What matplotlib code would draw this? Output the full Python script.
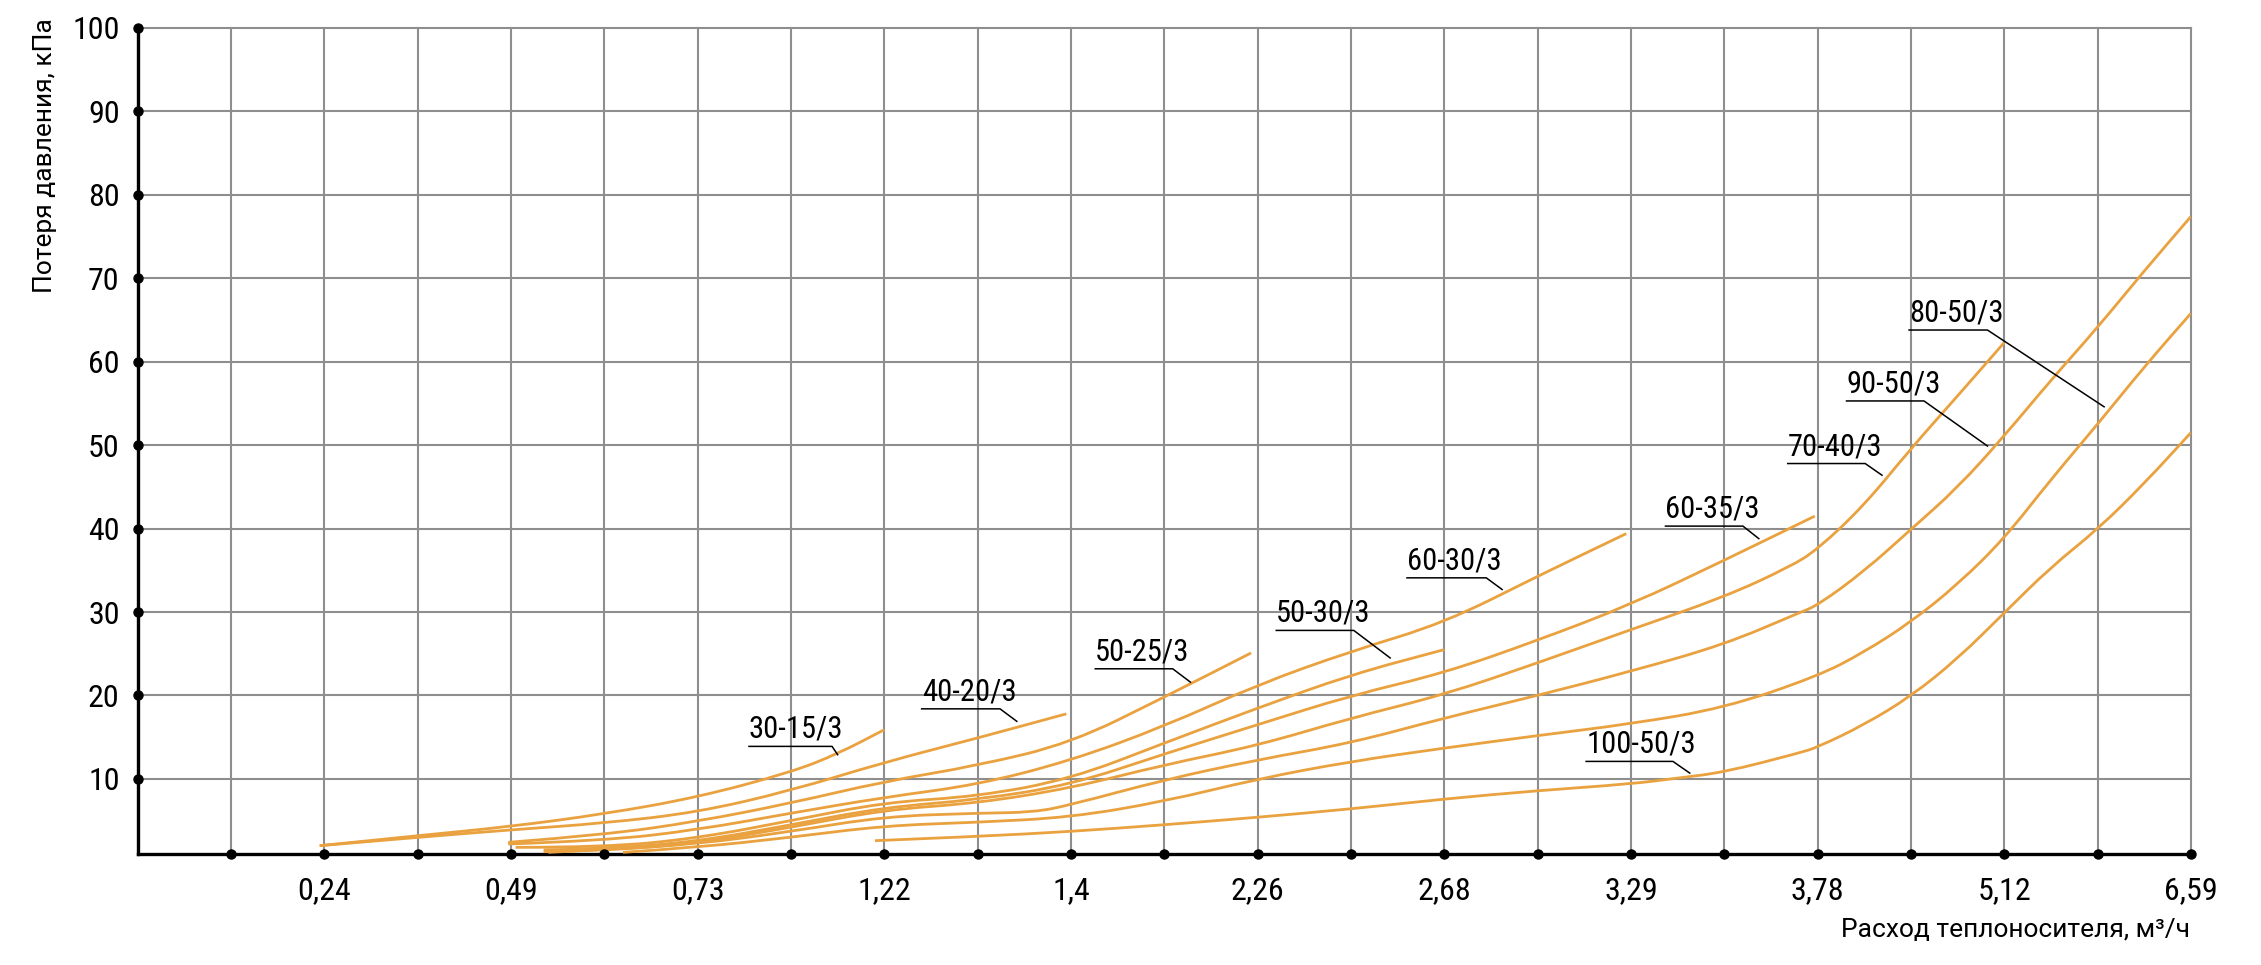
import matplotlib
matplotlib.use("Agg")
import matplotlib.pyplot as plt
from matplotlib.path import Path
from matplotlib.patches import PathPatch

# x axis: 22 equal steps, labels on every second gridline
x_labels = ['0,24', '0,49', '0,73', '1,22', '1,4', '2,26', '2,68', '3,29', '3,78', '5,12', '6,59']
y_ticks = [10, 20, 30, 40, 50, 60, 70, 80, 90, 100]

# curves (x in gridline steps, y in kPa)
x_30_15 = [1.95, 3, 4, 5, 6, 7, 7.5, 8]
y_30_15 = [2.0, 3.2, 4.3, 5.8, 7.8, 10.8, 13.0, 15.9]

x_40_20 = [1.95, 3, 4, 5, 6, 7, 8, 9, 9.95]
y_40_20 = [2.0, 3.0, 3.9, 4.7, 6.0, 8.6, 12.0, 14.9, 17.8]

x_50_25 = [3.97, 5, 6, 7, 8, 9, 10, 11, 11.93]
y_50_25 = [2.4, 3.3, 4.9, 7.1, 9.7, 11.6, 14.3, 19.8, 25.1]

x_60_30 = [3.97, 5, 6, 7, 8, 9, 10, 11, 12, 13, 14, 15, 15.95]
y_60_30 = [2.2, 2.6, 3.9, 5.9, 7.8, 9.3, 12.2, 16.3, 21.3, 25.3, 28.7, 34.3, 39.4]

x_50_30 = [4.05, 5, 6, 7, 8, 9, 10, 11, 12, 13, 14]
y_50_30 = [1.8, 1.8, 2.9, 5.0, 7.2, 7.9, 10.0, 14.3, 18.5, 22.5, 25.5]

x_60_35 = [4.35, 5, 6, 7, 8, 9, 10, 11, 12, 13, 14, 15, 16, 17, 17.97]
y_60_35 = [1.5, 1.6, 2.5, 4.5, 6.6, 7.5, 9.3, 13.0, 16.5, 20.0, 22.7, 26.6, 30.9, 36.2, 41.5]

x_70_40 = [4.35, 5, 6, 7, 8, 9, 10, 11, 12, 13, 14, 15, 16, 17, 17.7, 18, 18.5, 19, 19.5, 20]
y_70_40 = [1.3, 1.4, 2.3, 4.2, 6.3, 7.1, 8.9, 11.7, 14.0, 17.3, 20.1, 23.9, 27.9, 31.8, 35.4, 37.5, 42.8, 49.6, 55.9, 62.3]

x_90_50 = [4.4, 5, 6, 7, 8, 9, 9.6, 10, 11, 12, 13, 14, 15, 16, 17, 17.8, 18, 18.5, 19, 19.5, 20, 20.5, 21, 21.5, 22]
y_90_50 = [1.2, 1.5, 2.2, 3.7, 5.5, 5.9, 6.0, 6.9, 9.9, 12.3, 14.3, 17.3, 20.0, 22.9, 26.1, 29.9, 30.8, 34.9, 39.9, 44.9, 51.1, 57.8, 64.1, 70.9, 77.4]

x_80_50 = [5.2, 6, 7, 8, 9, 10, 11, 12, 13, 14, 15, 16, 17, 18, 18.5, 19, 19.5, 20, 20.5, 21, 21.5, 22]
y_80_50 = [1.2, 1.8, 3.0, 4.4, 4.8, 5.4, 7.3, 10.0, 12.1, 13.7, 15.2, 16.6, 18.5, 22.3, 25.2, 28.8, 33.3, 38.8, 45.9, 52.5, 59.4, 65.8]

x_100_50 = [7.9, 9, 10, 11, 12, 13, 14, 15, 16, 16.5, 17, 17.8, 18, 18.5, 19, 19.5, 20, 20.5, 21, 21.5, 22]
y_100_50 = [2.6, 3.1, 3.7, 4.5, 5.4, 6.4, 7.6, 8.6, 9.4, 10.1, 10.8, 13.1, 13.8, 16.5, 19.9, 24.4, 29.9, 35.4, 39.9, 45.4, 51.5]

curves = [(x_30_15, y_30_15), (x_40_20, y_40_20), (x_50_25, y_50_25), (x_60_30, y_60_30),
          (x_50_30, y_50_30), (x_60_35, y_60_35), (x_70_40, y_70_40), (x_90_50, y_90_50),
          (x_80_50, y_80_50), (x_100_50, y_100_50)]

# label: text, underline start x, underline end x, underline y, leader end x, leader end y
labels = [('30-15/3', 6.55, 7.44, 13.9, 7.5, 12.9),
          ('40-20/3', 8.40, 9.24, 18.4, 9.42, 16.9),
          ('50-25/3', 10.26, 11.09, 23.2, 11.28, 21.6),
          ('50-30/3', 12.20, 13.03, 27.8, 13.42, 24.5),
          ('60-30/3', 13.60, 14.45, 34.1, 14.62, 32.7),
          ('60-35/3', 16.37, 17.20, 40.3, 17.37, 38.8),
          ('70-40/3', 17.68, 18.51, 47.8, 18.69, 46.4),
          ('90-50/3', 18.31, 19.14, 55.3, 19.82, 49.9),
          ('80-50/3', 18.98, 19.82, 63.8, 21.07, 54.6),
          ('100-50/3', 15.52, 16.45, 12.1, 16.63, 10.7)]

orange = '#E9A23F'
grid_c = '#8E8E8E'
narrow = ['Roboto Condensed', 'Liberation Sans Narrow', 'DejaVu Sans']


def smooth_path(xs, ys):
    # quadratic bezier through midpoints, control points at the read values
    pts = list(zip(xs, ys))
    verts = [pts[0]]
    codes = [Path.MOVETO]
    for i in range(1, len(pts) - 1):
        m = ((pts[i][0] + pts[i + 1][0]) / 2, (pts[i][1] + pts[i + 1][1]) / 2)
        verts += [pts[i], m]
        codes += [Path.CURVE3, Path.CURVE3]
    verts.append(pts[-1])
    codes.append(Path.LINETO)
    return Path(verts, codes)


fig = plt.figure(figsize=(22.61, 9.65), dpi=100)
ax = fig.add_axes([0.0609, 0.1150, 0.9081, 0.8560])
ax.set_xlim(0, 22)
ax.set_ylim(1.0, 100)

ax.set_xticks(range(0, 23))
ax.set_xticklabels(['' if (i == 0 or i % 2) else x_labels[i // 2 - 1] for i in range(23)])
ax.set_yticks(y_ticks)
ax.set_yticklabels([str(v) for v in y_ticks])
ax.tick_params(length=0)
ax.tick_params(axis='x', pad=16, labelsize=23)
ax.tick_params(axis='y', pad=13, labelsize=23)
for t in ax.get_xticklabels() + ax.get_yticklabels():
    t.set_family(narrow)
    t.set_stretch('condensed')

ax.grid(True, color=grid_c, linewidth=1.5)
ax.set_axisbelow(True)
for gl in ax.get_xgridlines() + ax.get_ygridlines():
    gl.set_clip_on(False)

ax.spines['top'].set_visible(False)
ax.spines['right'].set_visible(False)
ax.spines['left'].set_linewidth(2.4)
ax.spines['bottom'].set_linewidth(2.4)

for xs, ys in curves:
    ax.add_patch(PathPatch(smooth_path(xs, ys), facecolor='none', edgecolor=orange,
                           linewidth=2.0, capstyle='butt', zorder=3))

for name, xl, xr, yu, xe, ye in labels:
    ax.plot([xl, xr, xe], [yu, yu, ye], color='black', linewidth=1.1, zorder=4)
    ax.text(xl, yu + 0.3, name, fontsize=22, family=narrow, stretch='condensed',
            ha='left', va='bottom', zorder=4)

# dots on the axes
ax.plot(range(1, 23), [1.0] * 22, 'o', color='black', markersize=6.5, clip_on=False, zorder=5)
ax.plot([0] * len(y_ticks), y_ticks, 'o', color='black', markersize=6.5, clip_on=False, zorder=5)

fig.text(2190 / 2261, 1 - 937 / 965, 'Расход теплоносителя, м³/ч', fontsize=19,
         family=['Roboto', 'DejaVu Sans'], ha='right', va='baseline')
fig.text(45 / 2261, 1 - 18 / 965, 'Потеря давления, кПа', fontsize=19, rotation=90,
         family=['Roboto', 'DejaVu Sans'], ha='center', va='top')

fig.savefig('out.png', dpi=100)
